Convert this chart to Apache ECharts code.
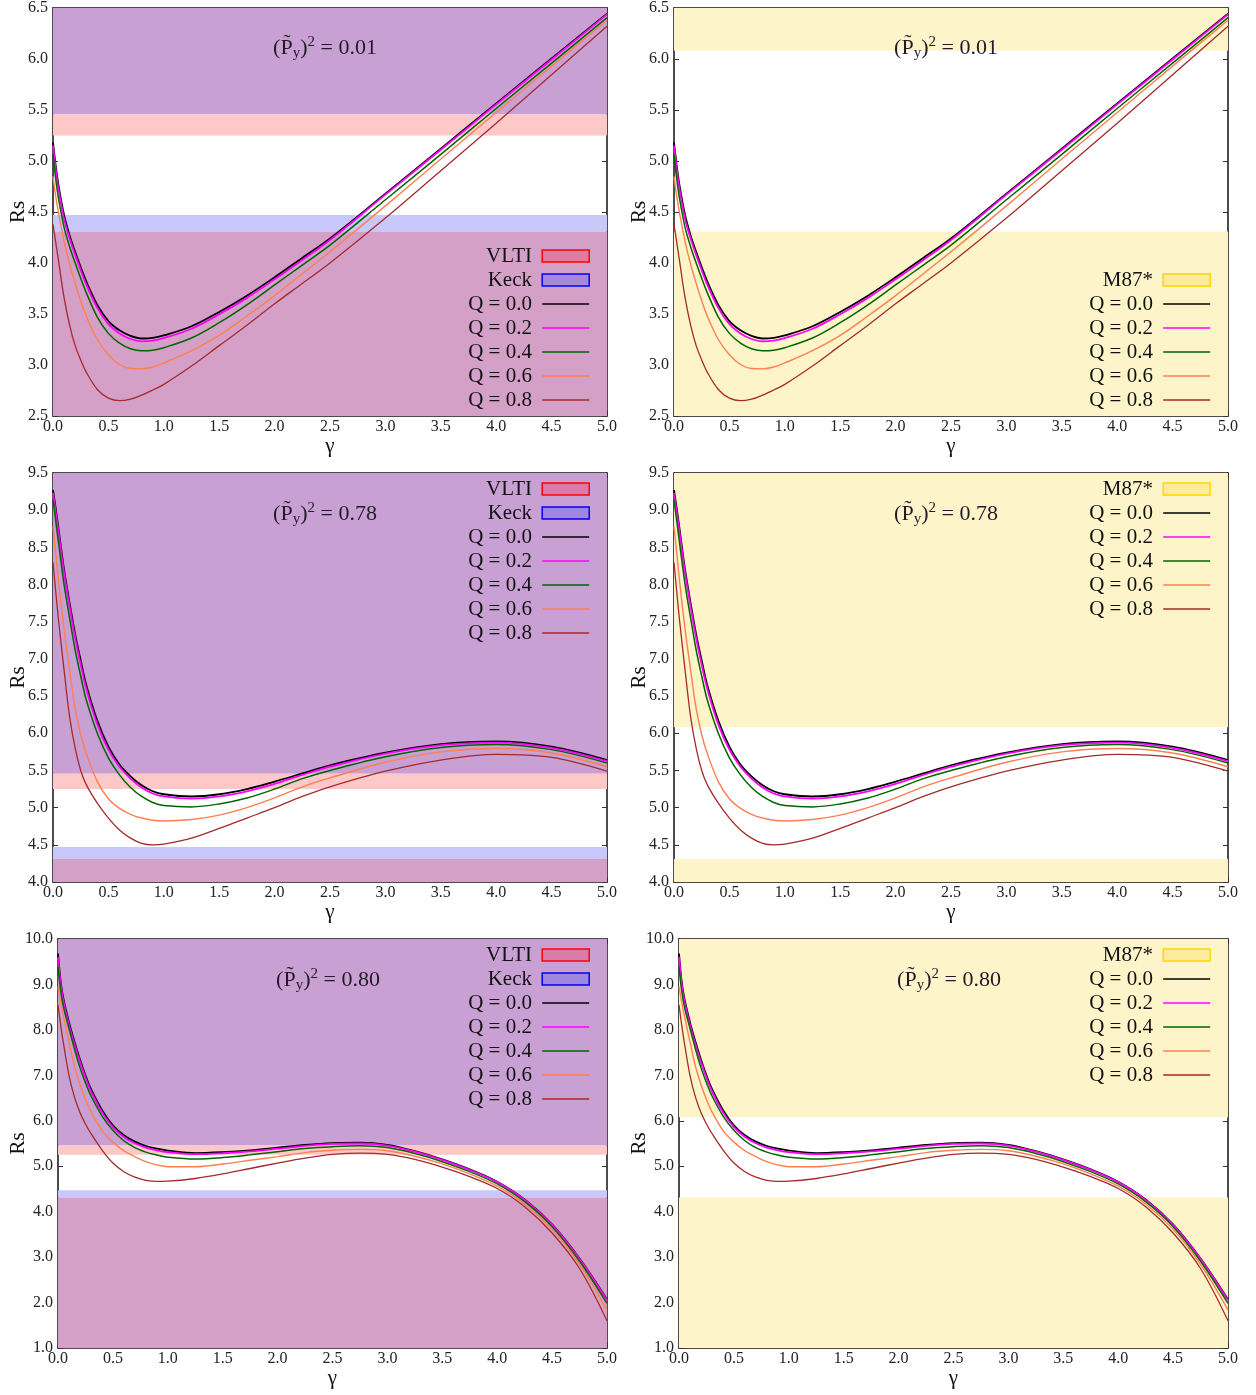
<!DOCTYPE html>
<html>
<head>
<meta charset="utf-8">
<script src="https://cdn.jsdelivr.net/npm/echarts@6/dist/echarts.min.js"></script>
<style>
  html, body { margin: 0; padding: 0; background: #ffffff; }
  #chart { width: 1256px; height: 1395px; }
</style>
</head>
<body>
<div id="chart"></div>
<script>
// ---- γ samples and shadow radius Rs for each charge Q ----
// (P̃y)^2 = 0.01
const gammaA = [0, 0.025, 0.05, 0.1, 0.15, 0.2, 0.25, 0.3, 0.4, 0.5, 0.6, 0.7, 0.8, 0.9, 1.0, 1.25, 1.5, 1.75, 2.0, 2.25, 2.5, 3.0, 3.5, 4.0, 4.5, 5.0];
const rsA_q00 = [5.18, 4.95, 4.76, 4.47, 4.27, 4.11, 3.96, 3.82, 3.59, 3.43, 3.34, 3.285, 3.26, 3.265, 3.29, 3.38, 3.52, 3.68, 3.86, 4.05, 4.24, 4.68, 5.12, 5.565, 6.005, 6.445];
const rsA_q02 = [5.15, 4.91, 4.72, 4.43, 4.24, 4.08, 3.93, 3.79, 3.56, 3.40, 3.31, 3.255, 3.232, 3.238, 3.263, 3.355, 3.497, 3.658, 3.84, 4.03, 4.225, 4.67, 5.11, 5.555, 5.995, 6.437];
const rsA_q04 = [5.07, 4.82, 4.63, 4.35, 4.16, 4.00, 3.85, 3.71, 3.47, 3.31, 3.215, 3.16, 3.14, 3.145, 3.17, 3.265, 3.415, 3.59, 3.785, 3.98, 4.175, 4.62, 5.065, 5.515, 5.96, 6.405];
const rsA_q06 = [4.85, 4.65, 4.49, 4.21, 3.99, 3.80, 3.63, 3.48, 3.25, 3.10, 3.005, 2.965, 2.962, 2.98, 3.02, 3.14, 3.29, 3.48, 3.68, 3.895, 4.11, 4.56, 5.02, 5.475, 5.93, 6.38];
const rsA_q08 = [4.38, 4.20, 4.02, 3.66, 3.39, 3.19, 3.05, 2.93, 2.76, 2.675, 2.65, 2.665, 2.705, 2.755, 2.81, 2.99, 3.19, 3.39, 3.60, 3.80, 4.00, 4.44, 4.905, 5.37, 5.845, 6.32];

// (P̃y)^2 = 0.78
const gammaB = [0, 0.025, 0.05, 0.1, 0.15, 0.2, 0.25, 0.3, 0.4, 0.5, 0.6, 0.7, 0.8, 0.9, 1.0, 1.25, 1.5, 1.75, 2.0, 2.25, 2.5, 3.0, 3.5, 4.0, 4.5, 5.0];
const rsB_q00 = [9.27, 9.02, 8.75, 8.2, 7.75, 7.33, 6.98, 6.65, 6.17, 5.82, 5.58, 5.42, 5.30, 5.22, 5.18, 5.15, 5.18, 5.25, 5.35, 5.46, 5.57, 5.74, 5.855, 5.89, 5.82, 5.64];
const rsB_q02 = [9.23, 8.97, 8.70, 8.15, 7.70, 7.28, 6.92, 6.60, 6.12, 5.78, 5.55, 5.39, 5.27, 5.19, 5.15, 5.12, 5.15, 5.22, 5.32, 5.44, 5.55, 5.725, 5.84, 5.875, 5.805, 5.625];
const rsB_q04 = [9.14, 8.85, 8.56, 8.0, 7.55, 7.12, 6.77, 6.45, 6.0, 5.67, 5.44, 5.27, 5.15, 5.07, 5.03, 5.01, 5.05, 5.13, 5.25, 5.39, 5.50, 5.685, 5.81, 5.85, 5.78, 5.60];
const rsB_q06 = [8.78, 8.42, 8.05, 7.4, 6.85, 6.33, 5.98, 5.73, 5.35, 5.12, 4.99, 4.91, 4.86, 4.83, 4.82, 4.84, 4.90, 5.0, 5.13, 5.28, 5.40, 5.61, 5.75, 5.795, 5.735, 5.55];
const rsB_q08 = [8.3, 7.9, 7.52, 6.85, 6.22, 5.8, 5.5, 5.31, 5.06, 4.86, 4.70, 4.59, 4.52, 4.50, 4.51, 4.59, 4.72, 4.86, 5.0, 5.15, 5.28, 5.49, 5.64, 5.715, 5.675, 5.49];

// (P̃y)^2 = 0.80
const gammaC = [0, 0.025, 0.05, 0.1, 0.15, 0.2, 0.25, 0.3, 0.4, 0.5, 0.6, 0.7, 0.8, 0.9, 1.0, 1.25, 1.5, 1.75, 2.0, 2.25, 2.5, 2.75, 3.0, 3.25, 3.5, 3.75, 4.0, 4.25, 4.5, 4.75, 5.0];
const rsC_q00 = [9.68, 9.05, 8.68, 8.17, 7.74, 7.35, 7.0, 6.70, 6.24, 5.90, 5.68, 5.54, 5.445, 5.385, 5.345, 5.29, 5.31, 5.35, 5.41, 5.47, 5.51, 5.52, 5.47, 5.33, 5.15, 4.93, 4.66, 4.27, 3.72, 2.97, 2.07];
const rsC_q02 = [9.6, 8.99, 8.62, 8.11, 7.68, 7.29, 6.95, 6.65, 6.19, 5.86, 5.645, 5.505, 5.41, 5.35, 5.31, 5.265, 5.285, 5.325, 5.385, 5.45, 5.49, 5.50, 5.455, 5.32, 5.14, 4.92, 4.65, 4.26, 3.71, 2.96, 2.05];
const rsC_q04 = [9.38, 8.85, 8.5, 8.03, 7.58, 7.17, 6.84, 6.55, 6.11, 5.79, 5.56, 5.41, 5.31, 5.245, 5.20, 5.16, 5.19, 5.25, 5.32, 5.39, 5.43, 5.45, 5.41, 5.28, 5.10, 4.88, 4.61, 4.22, 3.67, 2.91, 1.98];
const rsC_q06 = [8.95, 8.6, 8.3, 7.74, 7.2, 6.8, 6.47, 6.2, 5.79, 5.53, 5.34, 5.21, 5.1, 5.03, 4.99, 4.99, 5.05, 5.13, 5.21, 5.30, 5.35, 5.37, 5.34, 5.22, 5.05, 4.83, 4.56, 4.17, 3.61, 2.84, 1.84];
const rsC_q08 = [8.55, 8.1, 7.7, 7.0, 6.52, 6.18, 5.93, 5.72, 5.36, 5.07, 4.88, 4.76, 4.69, 4.665, 4.67, 4.73, 4.83, 4.95, 5.07, 5.18, 5.26, 5.29, 5.26, 5.15, 4.98, 4.77, 4.51, 4.11, 3.53, 2.75, 1.60];

const qLabels = ['Q = 0.0', 'Q = 0.2', 'Q = 0.4', 'Q = 0.6', 'Q = 0.8'];
const pyValues = ['0.01', '0.78', '0.80'];

// observational bounds on Rs
const vltiRange = [4.31, 5.25];
const keckRange = [4.47, 5.455];
const m87Range = [4.31, 6.08];

// y-axis extents per row: [min, max, interval]
const rowAxes = [[2.5, 6.5, 0.5], [4.0, 9.5, 0.5], [1.0, 10.0, 1.0]];

// ---- styling ----
const SERIF = "'Liberation Serif', 'DejaVu Serif', serif";
const qColors = ['#000000', '#ff00ff', '#006400', '#ff7f50', '#a52a2a'];
const qWidths = [1.8, 1.8, 1.5, 1.4, 1.3];
const bandColors = {
  both: '#c9a0d3', vltiOnly: '#fdc8c8', keckOnly: '#c8c8fa', bothLow: '#d5a0c8', m87: '#fdf5c9'
};

const gridBoxes = [
  { left: 53, top: 7, width: 554, height: 409 },
  { left: 674, top: 7, width: 554, height: 409 },
  { left: 53, top: 473, width: 554, height: 409 },
  { left: 674, top: 473, width: 554, height: 409 },
  { left: 58, top: 939, width: 549, height: 409 },
  { left: 679, top: 939, width: 549, height: 409 }
];
const rsNameGaps = [24, 24, 24, 24, 29, 29];
const legendTops = [244, 268, 477, 477, 943, 943];
const notePos = [[325, 48], [946, 48], [325, 514], [946, 514], [328, 980], [949, 980]];

const rowCurves = [
  { gamma: gammaA, rs: [rsA_q00, rsA_q02, rsA_q04, rsA_q06, rsA_q08] },
  { gamma: gammaB, rs: [rsB_q00, rsB_q02, rsB_q04, rsB_q06, rsB_q08] },
  { gamma: gammaC, rs: [rsC_q00, rsC_q02, rsC_q04, rsC_q06, rsC_q08] }
];

const grid = [], xAxis = [], yAxis = [], series = [], legend = [], graphic = [];

const tickLabel = { fontFamily: SERIF, fontSize: 16, color: '#222' };
const frameLine = { show: true, onZero: false, lineStyle: { color: '#111', width: 1.5 } };
const tickIn = { show: true, inside: true, length: 5, lineStyle: { color: '#333', width: 1 } };

function band(lo, hi, color) {
  return [{ yAxis: lo, itemStyle: { color: color } }, { yAxis: hi }];
}

gridBoxes.forEach((box, g) => {
  const row = Math.floor(g / 2);
  const isM87 = g % 2 === 1;
  const [yMin, yMax, yStep] = rowAxes[row];
  grid.push(Object.assign({ containLabel: false }, box));

  // bottom + mirrored top γ axis
  xAxis.push({
    gridIndex: g, type: 'value', min: 0, max: 5, interval: 0.5, position: 'bottom',
    name: 'γ', nameLocation: 'middle', nameGap: 20, nameMoveOverlap: false,
    nameTextStyle: { fontFamily: SERIF, fontSize: 21, color: '#111' },
    axisLine: frameLine, axisTick: tickIn, splitLine: { show: false },
    axisLabel: Object.assign({ margin: 3, formatter: v => v.toFixed(1) }, tickLabel)
  });
  xAxis.push({
    gridIndex: g, type: 'value', min: 0, max: 5, interval: 0.5, position: 'top',
    axisLine: frameLine, axisTick: tickIn, splitLine: { show: false }, axisLabel: { show: false }
  });
  // left + mirrored right Rs axis
  yAxis.push({
    gridIndex: g, type: 'value', min: yMin, max: yMax, interval: yStep, position: 'left',
    name: 'Rs', nameLocation: 'middle', nameGap: rsNameGaps[g], nameMoveOverlap: false,
    nameTextStyle: { fontFamily: SERIF, fontSize: 21, color: '#111' },
    axisLine: frameLine, axisTick: tickIn, splitLine: { show: false },
    axisLabel: Object.assign({ margin: 5, formatter: v => v.toFixed(1) }, tickLabel)
  });
  yAxis.push({
    gridIndex: g, type: 'value', min: yMin, max: yMax, interval: yStep, position: 'right',
    axisLine: frameLine, axisTick: tickIn, splitLine: { show: false }, axisLabel: { show: false }
  });

  const axisRef = { xAxisIndex: 2 * g, yAxisIndex: 2 * g };
  const markBase = { silent: true, label: { show: false } };

  // excluded regions
  if (isM87) {
    series.push(Object.assign({
      name: 'M87*', type: 'line', data: [], z: 1, silent: true, animation: false,
      itemStyle: { color: '#ffd700' },
      markArea: Object.assign({ data: [band(m87Range[1], yMax, bandColors.m87), band(yMin, m87Range[0], bandColors.m87)] }, markBase)
    }, axisRef));
  } else {
    series.push(Object.assign({
      name: 'Keck', type: 'line', data: [], z: 1, silent: true, animation: false,
      itemStyle: { color: '#0000ff' },
      markArea: Object.assign({ data: [band(keckRange[1], yMax, bandColors.both), band(vltiRange[0], keckRange[0], bandColors.keckOnly)] }, markBase)
    }, axisRef));
    series.push(Object.assign({
      name: 'VLTI', type: 'line', data: [], z: 1, silent: true, animation: false,
      itemStyle: { color: '#ff0000' },
      markArea: Object.assign({ data: [band(vltiRange[1], keckRange[1], bandColors.vltiOnly), band(yMin, vltiRange[0], bandColors.bothLow)] }, markBase)
    }, axisRef));
  }

  // Rs(γ) curves
  const curves = rowCurves[row];
  curves.rs.forEach((vals, k) => {
    series.push(Object.assign({
      name: qLabels[k], type: 'line', symbol: 'none', smooth: 0.35, z: 3 + k,
      silent: true, animation: false, clip: true,
      lineStyle: { color: qColors[k], width: qWidths[k] },
      itemStyle: { color: qColors[k] },
      data: curves.gamma.map((x, i) => [x, vals[i]])
    }, axisRef));
  });

  // legend, text right-aligned to the left of the key
  const bandItems = isM87
    ? [{ name: 'M87*', icon: 'rect', itemStyle: { color: 'rgba(255,215,60,0.3)', borderColor: '#ffd700', borderWidth: 1.5 } }]
    : [{ name: 'VLTI', icon: 'rect', itemStyle: { color: 'rgba(235,80,120,0.45)', borderColor: '#ff0000', borderWidth: 1.5 } },
       { name: 'Keck', icon: 'rect', itemStyle: { color: 'rgba(109,104,235,0.45)', borderColor: '#0000ff', borderWidth: 1.5 } }];
  const lineItems = qLabels.map(n => ({ name: n, itemStyle: { opacity: 0 }, lineStyle: { width: 1.6 } }));
  const iconRight = box.left + box.width - 17;
  legend.push({
    orient: 'vertical', align: 'right', selectedMode: false, padding: 0,
    right: 1256 - iconRight, top: legendTops[g],
    itemWidth: 47, itemHeight: 12, itemGap: 0,
    formatter: n => n + ' ',
    textStyle: { fontFamily: SERIF, fontSize: 21, color: '#111', lineHeight: 24 },
    data: bandItems.concat(lineItems)
  });

  // (P̃y)^2 annotation
  graphic.push({
    type: 'text', x: notePos[g][0], y: notePos[g][1], z: 50, silent: true,
    style: {
      text: '{m|(P\u0303}{sub|y}{m|)}{sup|2}{m| = ' + pyValues[row] + '}',
      align: 'center', verticalAlign: 'middle',
      rich: {
        m: { fontFamily: SERIF, fontSize: 22, lineHeight: 26, fill: '#231a28' },
        sub: { fontFamily: SERIF, fontSize: 15, lineHeight: 15, verticalAlign: 'bottom', fill: '#231a28' },
        sup: { fontFamily: SERIF, fontSize: 15, lineHeight: 15, verticalAlign: 'top', fill: '#231a28' }
      }
    }
  });
});

const chart = echarts.init(document.getElementById('chart'), null, { renderer: 'canvas' });
chart.setOption({
  animation: false,
  backgroundColor: '#ffffff',
  grid, xAxis, yAxis, series, legend, graphic
});
</script>
</body>
</html>
